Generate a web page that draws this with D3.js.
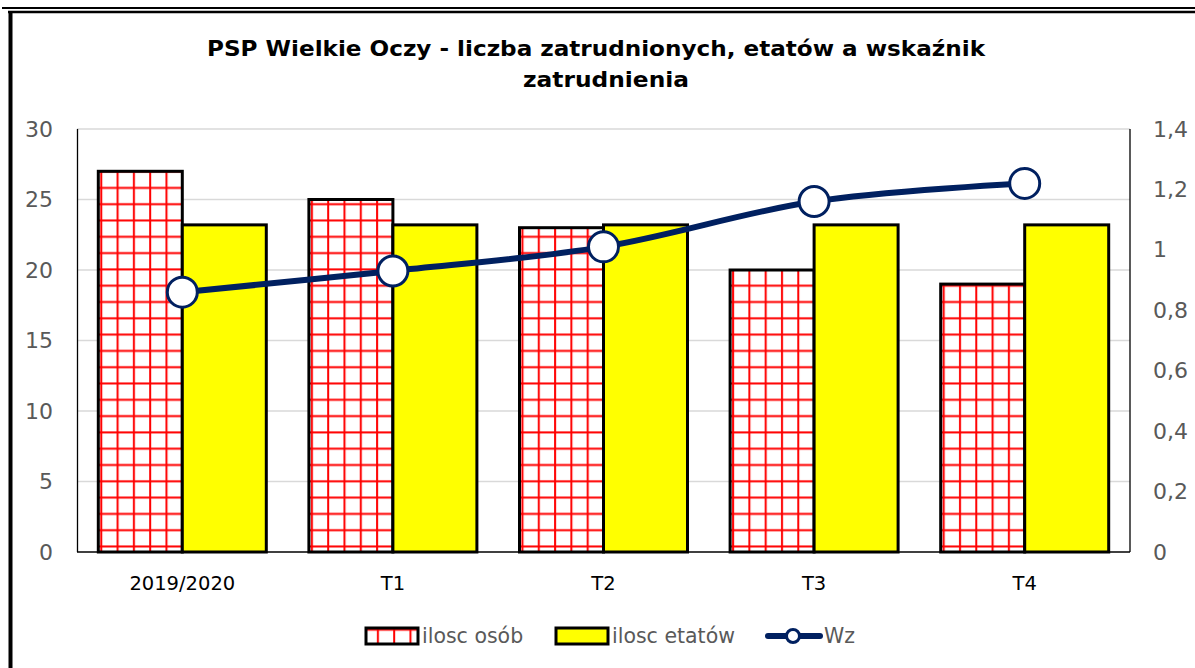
<!DOCTYPE html>
<html>
<head>
<meta charset="utf-8">
<script src="https://cdn.jsdelivr.net/npm/d3@7"></script>
<style>
  body { margin: 0; background: #fff; }
  svg { display: block; font-family: "DejaVu Sans", sans-serif; }
</style>
</head>
<body>
<div id="wrapper"></div>
<script>
// data
const categories = ["2019/2020", "T1", "T2", "T3", "T4"]
const osoby = [27, 25, 23, 20, 19]
const etaty = [23.2, 23.2, 23.2, 23.2, 23.2]
const wz = [0.86, 0.93, 1.01, 1.16, 1.22]
const leftTicks = [0, 5, 10, 15, 20, 25, 30]
const rightTicks = [0, 0.2, 0.4, 0.6, 0.8, 1, 1.2, 1.4]
const seriesNames = ["ilosc osób", "ilosc etatów", "Wz"]
const titleLines = ["PSP Wielkie Oczy - liczba zatrudnionych, etatów a wskaźnik", "zatrudnienia"]

function drawChart() {
  // 1. Dimensions
  const dimensions = {
    width: 1195,
    height: 668,
    margins: { top: 129, right: 65, bottom: 116, left: 77 },
  }
  dimensions.boundedWidth = dimensions.width - dimensions.margins.left - dimensions.margins.right
  dimensions.boundedHeight = dimensions.height - dimensions.margins.top - dimensions.margins.bottom

  // 2. Canvas
  const wrapper = d3.select("#wrapper")
    .append("svg")
    .attr("width", dimensions.width)
    .attr("height", dimensions.height)

  const defs = wrapper.append("defs")
  const pattern = defs.append("pattern")
    .attr("id", "redGrid")
    .attr("patternUnits", "userSpaceOnUse")
    .attr("width", 16.3)
    .attr("height", 16.3)
  pattern.append("rect").attr("width", 16.3).attr("height", 16.3).attr("fill", "#fff")
  pattern.append("rect").attr("x", 2).attr("y", 0).attr("width", 2).attr("height", 16.3).attr("fill", "#ff0000")
  pattern.append("rect").attr("x", 0).attr("y", 9).attr("width", 16.3).attr("height", 2).attr("fill", "#ff0000")

  // outer frame
  wrapper.append("line").attr("x1", 2).attr("x2", 1195).attr("y1", 8).attr("y2", 8)
    .attr("stroke", "#000").attr("stroke-width", 2)
  wrapper.append("line").attr("x1", 8).attr("x2", 1195).attr("y1", 12).attr("y2", 12)
    .attr("stroke", "#000").attr("stroke-width", 2.5)
  wrapper.append("line").attr("x1", 10.5).attr("x2", 10.5).attr("y1", 11).attr("y2", 668)
    .attr("stroke", "#000").attr("stroke-width", 4)

  // title
  const titleX = [596, 606]
  const titleY = [56, 87]
  const titleWidth = [778, 166]
  wrapper.selectAll(".title")
    .data(titleLines)
    .join("text")
    .attr("class", "title")
    .attr("x", (d, i) => titleX[i])
    .attr("y", (d, i) => titleY[i])
    .attr("text-anchor", "middle")
    .attr("font-size", "21px")
    .attr("font-weight", "bold")
    .attr("fill", "#000")
    .attr("textLength", (d, i) => titleWidth[i])
    .attr("lengthAdjust", "spacingAndGlyphs")
    .text(d => d)

  const bounds = wrapper.append("g")
    .attr("transform", `translate(${dimensions.margins.left},${dimensions.margins.top})`)

  // 3. Scales
  const x0 = d3.scaleBand()
    .domain(categories)
    .range([0, dimensions.boundedWidth])
    .paddingInner(0.2023)
    .paddingOuter(0.10115)

  const x1 = d3.scaleBand()
    .domain(["osoby", "etaty"])
    .range([0, x0.bandwidth()])

  const yLeft = d3.scaleLinear()
    .domain([0, 30])
    .range([dimensions.boundedHeight, 0])

  const yRight = d3.scaleLinear()
    .domain([0, 1.4])
    .range([dimensions.boundedHeight, 0])

  const plFormat = d3.formatLocale({ decimal: ",", thousands: " ", grouping: [3], currency: ["", " zł"] }).format("~g")

  // 4. Gridlines + axes
  bounds.append("g")
    .selectAll("line")
    .data(leftTicks.slice(1))
    .join("line")
    .attr("x1", 0)
    .attr("x2", dimensions.boundedWidth)
    .attr("y1", d => yLeft(d))
    .attr("y2", d => yLeft(d))
    .attr("stroke", "#d9d9d9")
    .attr("stroke-width", 1.3)

  const yAxisLeft = bounds.append("g")
    .call(d3.axisLeft(yLeft).tickValues(leftTicks).tickSize(0).tickPadding(24))
  yAxisLeft.select(".domain").remove()

  const yAxisRight = bounds.append("g")
    .attr("transform", `translate(${dimensions.boundedWidth},0)`)
    .call(d3.axisRight(yRight).tickValues(rightTicks).tickSize(0).tickPadding(23).tickFormat(plFormat))
  yAxisRight.select(".domain").remove()

  const xAxis = bounds.append("g")
    .attr("transform", `translate(0,${dimensions.boundedHeight})`)
    .call(d3.axisBottom(x0).tickSize(0).tickPadding(24))
  xAxis.select(".domain").remove()

  wrapper.selectAll(".tick text")
    .attr("font-family", "DejaVu Sans, sans-serif")
    .attr("font-size", "22px")
    .attr("fill", "#595959")
  xAxis.selectAll(".tick text")
    .attr("font-size", "19.5px")
    .attr("fill", "#000")

  // plot area edges
  bounds.append("line").attr("x1", 0.5).attr("x2", 0.5).attr("y1", 0).attr("y2", dimensions.boundedHeight)
    .attr("stroke", "#000").attr("stroke-width", 1.3)
  bounds.append("line").attr("x1", dimensions.boundedWidth).attr("x2", dimensions.boundedWidth)
    .attr("y1", 0).attr("y2", dimensions.boundedHeight)
    .attr("stroke", "#000").attr("stroke-width", 1.3)
  bounds.append("line").attr("x1", 0).attr("x2", dimensions.boundedWidth)
    .attr("y1", dimensions.boundedHeight).attr("y2", dimensions.boundedHeight)
    .attr("stroke", "#000").attr("stroke-width", 1.3)

  // 5. Bars
  const groups = bounds.append("g")
    .selectAll("g")
    .data(categories)
    .join("g")
    .attr("transform", d => `translate(${x0(d)},0)`)

  groups.append("rect")
    .attr("x", x1("osoby"))
    .attr("y", (d, i) => yLeft(osoby[i]))
    .attr("width", x1.bandwidth())
    .attr("height", (d, i) => dimensions.boundedHeight - yLeft(osoby[i]))
    .attr("fill", "url(#redGrid)")
    .attr("stroke", "#000")
    .attr("stroke-width", 3)

  groups.append("rect")
    .attr("x", x1("etaty"))
    .attr("y", (d, i) => yLeft(etaty[i]))
    .attr("width", x1.bandwidth())
    .attr("height", (d, i) => dimensions.boundedHeight - yLeft(etaty[i]))
    .attr("fill", "#ffff00")
    .attr("stroke", "#000")
    .attr("stroke-width", 3)

  // 6. Wz line
  const cx = (d, i) => x0(categories[i]) + x0.bandwidth() / 2
  const lineGenerator = d3.line()
    .x(cx)
    .y(d => yRight(d))
    .curve(d3.curveCatmullRom)

  bounds.append("path")
    .attr("d", lineGenerator(wz))
    .attr("fill", "none")
    .attr("stroke", "#002060")
    .attr("stroke-width", 6)
    .attr("stroke-linecap", "round")

  bounds.selectAll(".marker")
    .data(wz)
    .join("circle")
    .attr("class", "marker")
    .attr("cx", cx)
    .attr("cy", d => yRight(d))
    .attr("r", 15)
    .attr("fill", "#fff")
    .attr("stroke", "#002060")
    .attr("stroke-width", 3)

  // 7. Legend
  const legend = wrapper.append("g").attr("transform", "translate(0,636)")
  legend.append("rect").attr("x", 366).attr("y", -8).attr("width", 52).attr("height", 16)
    .attr("fill", "url(#redGrid)").attr("stroke", "#000").attr("stroke-width", 3)
  legend.append("rect").attr("x", 556).attr("y", -8).attr("width", 52).attr("height", 16)
    .attr("fill", "#ffff00").attr("stroke", "#000").attr("stroke-width", 3)
  legend.append("line").attr("x1", 768).attr("x2", 820).attr("y1", 0).attr("y2", 0)
    .attr("stroke", "#002060").attr("stroke-width", 6).attr("stroke-linecap", "round")
  legend.append("circle").attr("cx", 793).attr("cy", 0).attr("r", 6.5)
    .attr("fill", "#fff").attr("stroke", "#002060").attr("stroke-width", 3)

  const legendX = [422, 612, 824]
  legend.selectAll(".legend-label")
    .data(seriesNames)
    .join("text")
    .attr("class", "legend-label")
    .attr("x", (d, i) => legendX[i])
    .attr("y", 0)
    .attr("dy", "0.35em")
    .attr("font-size", "20.5px")
    .attr("fill", "#595959")
    .text(d => d)
}

drawChart()
</script>
</body>
</html>
